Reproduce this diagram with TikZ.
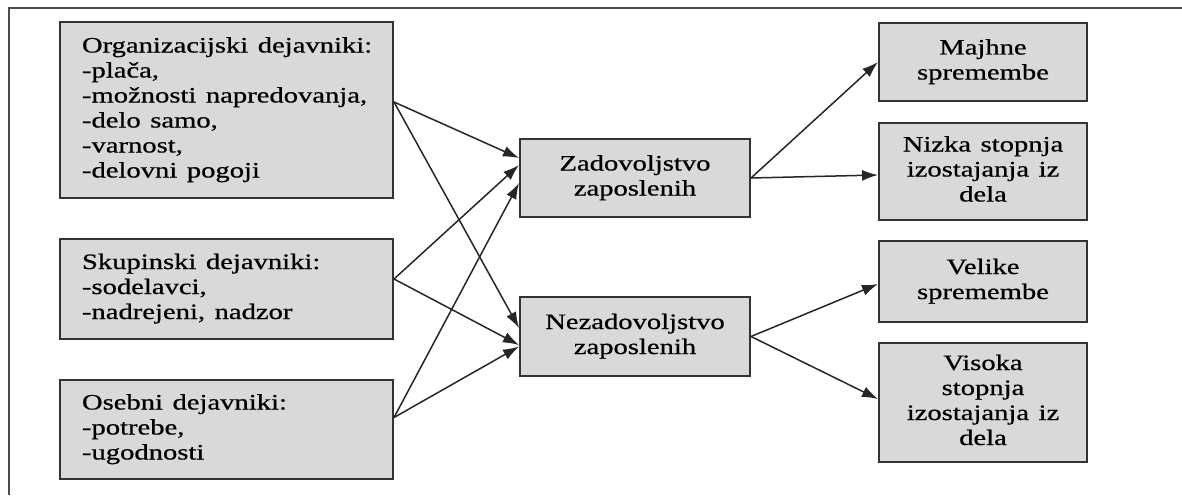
\documentclass[tikz,border=0pt]{standalone}
\usepackage{fontspec}
\setmainfont{Liberation Serif}[FakeBold=0.6]
\usetikzlibrary{positioning,arrows.meta}
\newcommand{\lefttext}[1]{\scalebox{1.3}[1]{\begin{tabular}{@{}l@{}}#1\end{tabular}}}
\newcommand{\centertext}[1]{\scalebox{1.3}[1]{\begin{tabular}{@{}c@{}}#1\end{tabular}}}
\tikzset{
  box/.style={draw=black!80, line width=2pt, fill=black!15, font=\fontsize{22}{25}\selectfont},
  factor/.style={box, inner xsep=22pt, text width=289pt, align=left},
  state/.style={box, inner xsep=15pt, text width=200pt, align=center},
  outcome/.style={box, inner xsep=14pt, text width=180pt, align=center},
  link/.style={-{Latex[length=16pt,width=11pt]}, line width=1.5pt, draw=black!85},
  frame/.style={line width=2pt, draw=black!70}
}
\begin{document}
\begin{tikzpicture}[x=1pt,y=1pt]
  \useasboundingbox (0,0) rectangle (1182,-495);
  \draw[frame] (9,-495) -- (9,-8) -- (1182,-8);
  % left column
  \node[factor, minimum height=176pt] (org) at (226.5,-110)
    {\lefttext{Organizacijski dejavniki:\\-plača,\\-možnosti napredovanja,\\-delo samo,\\-varnost,\\-delovni pogoji}};
  \node[factor, minimum height=100pt, below=39pt of org] (skup)
    {\lefttext{Skupinski dejavniki:\\-sodelavci,\\-nadrejeni, nadzor}};
  \node[factor, minimum height=99pt, below=39pt of skup] (oseb)
    {\lefttext{Osebni dejavniki:\\-potrebe,\\-ugodnosti}};
  % middle
  \node[state, minimum height=78pt] (zad) at (635,-178) {\centertext{Zadovoljstvo\\zaposlenih}};
  \node[state, minimum height=79pt] (nez) at (635,-336.5) {\centertext{Nezadovoljstvo\\zaposlenih}};
  % right column
  \node[outcome, minimum height=78pt] (majhne) at (983,-62) {\centertext{Majhne\\spremembe}};
  \node[outcome, minimum height=97pt, below=20pt of majhne] (nizka) {\centertext{Nizka stopnja\\izostajanja iz\\dela}};
  \node[outcome, minimum height=81pt, below=19pt of nizka] (velike) {\centertext{Velike\\spremembe}};
  \node[outcome, minimum height=119pt, below=19pt of velike] (visoka) {\centertext{Visoka\\stopnja\\izostajanja iz\\dela}};
  % connectors
  \draw[link] ([yshift=8pt]org.east) -- ([yshift=20pt]zad.west);
  \draw[link] ([yshift=8pt]org.east) -- ([yshift=8.5pt]nez.west);
  \draw[link] ([yshift=10pt]skup.east) -- ([yshift=13pt]zad.west);
  \draw[link] ([yshift=10pt]skup.east) -- ([yshift=-8.5pt]nez.west);
  \draw[link] ([yshift=12pt]oseb.east) -- ([yshift=-5pt]zad.west);
  \draw[link] ([yshift=12pt]oseb.east) -- ([yshift=-10pt]nez.west);
  \draw[link] (zad.east) -- (majhne.west);
  \draw[link] (zad.east) -- ([yshift=-3.5pt]nizka.west);
  \draw[link] (nez.east) -- ([yshift=-2.5pt]velike.west);
  \draw[link] (nez.east) -- ([yshift=3.5pt]visoka.west);
\end{tikzpicture}
\end{document}
